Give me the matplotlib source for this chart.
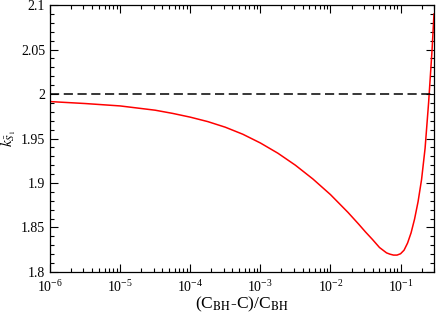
import matplotlib
matplotlib.use('Agg')
import matplotlib.pyplot as plt
from matplotlib.ticker import LogLocator, MultipleLocator

plt.rcParams['font.family'] = ['Liberation Serif', 'DejaVu Serif']
plt.rcParams['mathtext.fontset'] = 'stix'

# values
x_vals = [1e-6, 3.162e-6, 1e-5, 3.162e-5, 5.623e-5, 1e-4, 1.778e-4, 3.162e-4,
          5.623e-4, 1e-3, 1.778e-3, 3.162e-3, 5.623e-3, 1e-2, 1.778e-2,
          2.512e-2, 3.162e-2, 3.981e-2, 5.012e-2, 6.310e-2, 7.079e-2, 7.943e-2,
          8.913e-2, 0.1, 0.1122, 0.1259, 0.1413, 0.1585, 0.1778, 0.1995,
          0.2239, 0.2512, 0.2818, 0.3]
k_vals = [1.9915, 1.9893, 1.9866, 1.9818, 1.9782, 1.9740, 1.9690, 1.9627,
          1.9548, 1.9450, 1.9335, 1.9200, 1.9045, 1.8870, 1.8670,
          1.8540, 1.8450, 1.8365, 1.8275, 1.8215, 1.8200, 1.8190,
          1.8190, 1.8205, 1.8245, 1.8325, 1.8440, 1.8595, 1.8790, 1.9040,
          1.9390, 1.9900, 2.0500, 2.0900]
k_ref = 2.0

fig = plt.figure(figsize=(4.36, 3.13), dpi=100)
ax = fig.add_axes([0.1147, 0.131, 0.8807, 0.853])

ax.plot(x_vals, k_vals, color='red', lw=1.1)
ax.axhline(k_ref, color='black', ls=(0, (6, 3)), lw=1.1)

ax.set_xscale('log')
ax.set_xlim(1e-6, 0.3)
ax.set_ylim(1.8, 2.1)
ax.yaxis.set_minor_locator(MultipleLocator(0.01))
ax.xaxis.set_major_locator(LogLocator(base=10, numticks=10))
ax.xaxis.set_minor_locator(LogLocator(base=10, subs=range(2, 10), numticks=10))
ax.set_yticks([1.8, 1.85, 1.9, 1.95, 2.0, 2.05, 2.1])
ax.set_yticklabels(['1.8', '1.85', '1.9', '1.95', '2', '2.05', '2.1'])

ax.tick_params(which='both', direction='in', top=True, right=True, labelsize=10, width=0.8)
ax.tick_params(which='major', length=6)
ax.tick_params(which='minor', length=3)
ax.tick_params(axis='x', pad=5)
for s in ax.spines.values():
    s.set_linewidth(0.9)

ax.set_xlabel(r'(C$_{\rm BH}$-C)/C$_{\rm BH}$', fontsize=12.5, labelpad=0)
ax.set_ylabel(r'$k_{\bar{S}_1}$', fontsize=11, labelpad=2)

fig.savefig('out.png', dpi=100)
